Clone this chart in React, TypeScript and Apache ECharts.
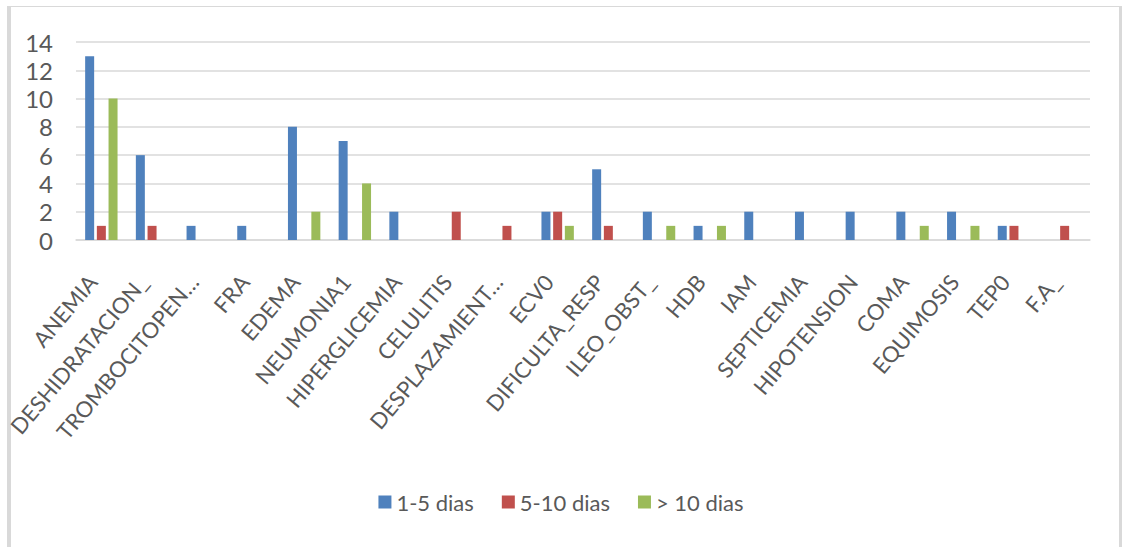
import React, { useEffect, useRef } from "react";
import * as echarts from "echarts";

const categories = [
  "ANEMIA", "DESHIDRATACION_", "TROMBOCITOPEN…", "FRA", "EDEMA", "NEUMONIA1",
  "HIPERGLICEMIA", "CELULITIS", "DESPLAZAMIENT…", "ECV0", "DIFICULTA_RESP",
  "ILEO_OBST_", "HDB", "IAM", "SEPTICEMIA", "HIPOTENSION", "COMA", "EQUIMOSIS",
  "TEP0", "F.A_",
];
const seriesNames = ["1-5 dias", "5-10 dias", "> 10 dias"];
const dias1a5 = [13, 6, 1, 1, 8, 7, 2, 0, 0, 2, 5, 2, 1, 2, 2, 2, 2, 2, 1, 0];
const dias5a10 = [1, 1, 0, 0, 0, 0, 0, 2, 1, 2, 1, 0, 0, 0, 0, 0, 0, 0, 1, 1];
const diasMas10 = [10, 0, 0, 0, 2, 4, 0, 0, 0, 1, 0, 1, 1, 0, 0, 0, 1, 1, 0, 0];
const colors = ["#4f81bd", "#c0504d", "#9bbb59"];

export default function App() {
  const ref = useRef<HTMLDivElement>(null);
  useEffect(() => {
    if (!ref.current) return;
    const chart = echarts.init(ref.current, null, { renderer: "svg" });
    const font = "Lato, 'Open Sans', sans-serif";
    const mk = (name: string, data: number[], color: string) => ({
      name,
      type: "bar",
      data,
      barWidth: 9,
      barGap: "30%",
      itemStyle: { color },
    });
    chart.setOption({
      animation: false,
      backgroundColor: "#ffffff",
      grid: { left: 76, right: 32, top: 42, bottom: 307, containLabel: false },
      legend: {
        data: seriesNames,
        bottom: 29,
        left: "center",
        itemWidth: 13,
        itemHeight: 13,
        itemGap: 28,
        icon: "rect",
        textStyle: { fontFamily: font, fontSize: 22, color: "#595959" },
      },
      xAxis: {
        type: "category",
        data: categories,
        axisLine: { show: true, lineStyle: { color: "#d9d9d9", width: 1.5 } },
        axisTick: { show: false },
        axisLabel: {
          rotate: 50,
          interval: 0,
          margin: 27,
          padding: [0, 14, 0, 0],
          fontFamily: font,
          fontSize: 22,
          color: "#595959",
        },
      },
      yAxis: {
        type: "value",
        min: 0,
        max: 14,
        interval: 2,
        axisLine: { show: false },
        axisTick: { show: false },
        splitLine: { lineStyle: { color: "#d9d9d9", width: 1.5 } },
        axisLabel: {
          margin: 23,
          fontFamily: font,
          fontSize: 24,
          color: "#595959",
        },
      },
      graphic: [
        { type: "rect", shape: { x: 7, y: 6, width: 4, height: 541 }, style: { fill: "#d9d9d9" }, silent: true },
        { type: "rect", shape: { x: 7, y: 6, width: 1113, height: 1 }, style: { fill: "#d9d9d9" }, silent: true },
        { type: "rect", shape: { x: 1119, y: 6, width: 3, height: 541 }, style: { fill: "#d9d9d9" }, silent: true },
      ],
      series: [
        mk(seriesNames[0], dias1a5, colors[0]),
        mk(seriesNames[1], dias5a10, colors[1]),
        mk(seriesNames[2], diasMas10, colors[2]),
      ],
    });
    return () => chart.dispose();
  }, []);
  return (
    <div
      ref={ref}
      style={{ position: "fixed", left: 0, top: 0, width: 1122, height: 547 }}
    />
  );
}
